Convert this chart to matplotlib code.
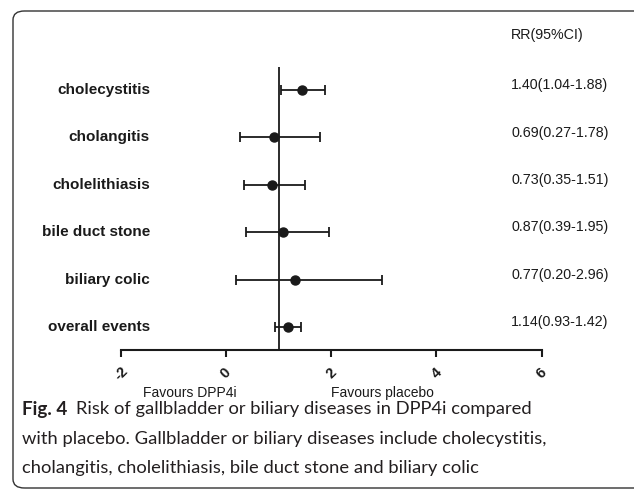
import numpy as np
import matplotlib
matplotlib.use('Agg')
import matplotlib.pyplot as plt
from matplotlib.patches import FancyBboxPatch

# data
outcomes = ['cholecystitis', 'cholangitis', 'cholelithiasis',
            'bile duct stone', 'biliary colic', 'overall events']
point = [1.44, 0.92, 0.87, 1.08, 1.32, 1.17]
lower = [1.04, 0.27, 0.35, 0.39, 0.20, 0.93]
upper = [1.88, 1.78, 1.51, 1.95, 2.96, 1.42]
rr_text = ['1.40(1.04-1.88)', '0.69(0.27-1.78)', '0.73(0.35-1.51)',
           '0.87(0.39-1.95)', '0.77(0.20-2.96)', '1.14(0.93-1.42)']
xticks = [-2, 0, 2, 4, 6]

W, H = 634, 492
fig = plt.figure(figsize=(W/100, H/100), dpi=100)
ink = '#1a1a1a'

# rounded frame around figure + caption
frame = FancyBboxPatch((13/W, 4/H), 640/W, (H-11-4)/H,
                       boxstyle='round,pad=0,rounding_size=0.018',
                       transform=fig.transFigure, fill=False,
                       edgecolor='#333333', lw=1.0)
fig.patches.append(frame)

ax = fig.add_axes([120.7/W, 1-350/H, (541.7-120.7)/W, (350-67)/H])
ax.patch.set_alpha(0)

y = np.arange(len(outcomes), 0, -1)
pt = np.array(point)
err = [pt-np.array(lower), np.array(upper)-pt]

ax.axvline(1, color=ink, lw=1.3, zorder=1)
ax.errorbar(pt, y, xerr=err, fmt='o', color=ink, ms=6.5, elinewidth=1.3,
            capsize=3.8, capthick=1.3, zorder=3)

ax.set_xlim(-2, 6)
ax.set_ylim(0.515, 6.485)
ax.set_yticks([])
for s in ['left', 'top', 'right']:
    ax.spines[s].set_visible(False)
ax.spines['bottom'].set_linewidth(1.5)
ax.spines['bottom'].set_color(ink)
ax.set_xticks(xticks)
ax.set_xticklabels([str(t) for t in xticks], rotation=45, fontsize=10.5,
                   fontweight='bold', family='Liberation Sans', color=ink,
                   ha='center', va='center')
ax.tick_params(axis='x', direction='out', length=5, width=1.5, color=ink, pad=12)

# outcome labels (right edge at ~149 px)
for yi, name in zip(y, outcomes):
    ax.text(-1.445, yi, name, ha='right', va='center',
            fontsize=11, fontweight='bold', family='Liberation Sans', color=ink,
            clip_on=False)

# RR column
for yi, t in zip(y, rr_text):
    ax.text(5.42, yi+0.1, t, ha='left', va='center', fontsize=10.3,
            family='Liberation Sans', color=ink, clip_on=False)
ax.text(5.42, 7.16, 'RR(95%CI)', ha='left', va='center', fontsize=10.3,
        family='Liberation Sans', color=ink, clip_on=False)

# favours labels
ax.text(-0.68, -0.39, 'Favours DPP4i', ha='center', va='center', fontsize=10,
        family='Liberation Sans', color=ink, clip_on=False)
ax.text(2.98, -0.39, 'Favours placebo', ha='center', va='center', fontsize=10,
        family='Liberation Sans', color=ink, clip_on=False)

# caption
cap_font = 'Lato'
cap_col = '#231f20'
fs = 13.2
fig.canvas.draw()
r = fig.canvas.get_renderer()
t0 = fig.text(22/W, 1-409/H, 'Fig. 4', fontsize=fs+0.4, fontweight='bold',
              family=cap_font, color=cap_col, va='center')
bb = t0.get_window_extent(renderer=r)
fig.text(bb.x1/W + 9/W, 1-409/H,
         'Risk of gallbladder or biliary diseases in DPP4i compared',
         fontsize=fs, family=cap_font, color=cap_col, va='center')
fig.text(22/W, 1-439/H,
         'with placebo. Gallbladder or biliary diseases include cholecystitis,',
         fontsize=fs, family=cap_font, color=cap_col, va='center')
fig.text(22/W, 1-468/H,
         'cholangitis, cholelithiasis, bile duct stone and biliary colic',
         fontsize=fs, family=cap_font, color=cap_col, va='center')

fig.savefig('out.png', dpi=100)
